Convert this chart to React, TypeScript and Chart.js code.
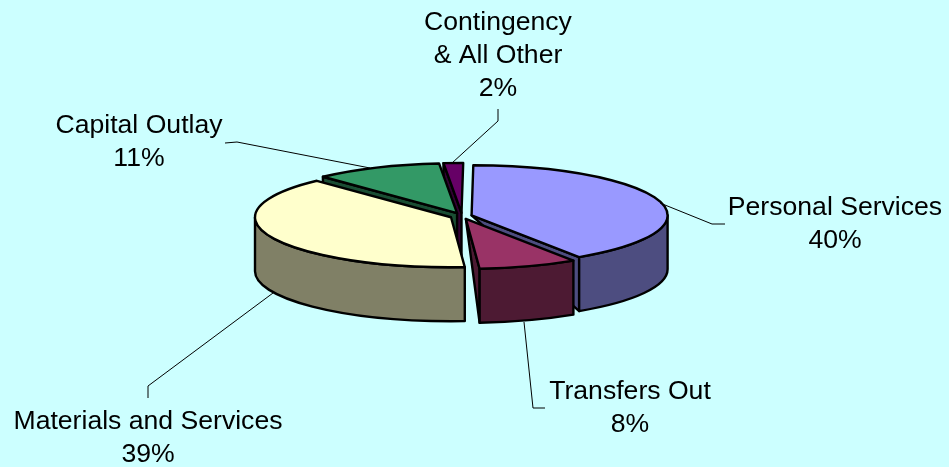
import React, { useEffect, useRef } from "react";
import { Chart, registerables } from "chart.js";

Chart.register(...registerables);

const categories = ["Personal Services", "Transfers Out", "Materials and Services", "Capital Outlay", "Contingency\n& All Other"];
const values = [40.49, 8.1, 39.0, 10.5, 1.6];
const percentLabels = ["40%", "8%", "39%", "11%", "2%"];
const topColors = ["#9999ff", "#993366", "#ffffcc", "#339966", "#660066"];
const wallColors = ["#4d4d80", "#4d1a33", "#808066", "#1a4d33", "#330033"];
const explode = [10, 12, 12, 12, 12];

const BG = "#ccffff";
const CX = 462;
const CY = 216;
const RX = 196;
const K = 0.255;
const DEPTH = 54;
const paintOrder = [4, 3, 0, 2, 1];
// Which cut faces of each slice show; "Tip" faces taper to the apex.
const cutFaces = [["endTip"], ["endTip"], [], ["start"], ["start"]];
const labelCentres = [
  [835, 208],
  [630, 392],
  [148, 422],
  [139, 126],
  [498, 23],
];
const leaders = [
  [[660, 203], [712, 224], [725, 224]],
  [[524, 322], [533, 408], [545, 408]],
  [[273, 293], [148, 386], [148, 398]],
  [[370, 168], [237, 142], [225, 143]],
  [[452, 163], [498, 121], [498, 109]],
];

const piePlugin = {
  id: "pie3d",
  beforeDatasetDraw(chart: any) {
    const ctx = chart.ctx;
    const arcs = chart.getDatasetMeta(0).data;
    const geom = arcs.map((arc: any, i: number) => {
      const p = arc.getProps(["startAngle", "endAngle", "outerRadius"], true);
      const mid = (p.startAngle + p.endAngle) / 2;
      return {
        a0: p.startAngle,
        a1: p.endAngle,
        r: p.outerRadius,
        x: CX + Math.cos(mid) * explode[i],
        y: CY + Math.sin(mid) * explode[i] * K,
      };
    });
    ctx.save();
    ctx.lineJoin = "round";
    ctx.lineWidth = 2.4;
    ctx.strokeStyle = "#000";
    for (const i of paintOrder) {
      const g = geom[i];
      ctx.fillStyle = wallColors[i];
      for (const face of cutFaces[i]) {
        const a = face.startsWith("end") ? g.a1 : g.a0;
        const ex = g.x + Math.cos(a) * g.r;
        const ey = g.y + Math.sin(a) * g.r * K;
        ctx.beginPath();
        ctx.moveTo(g.x, g.y);
        ctx.lineTo(ex, ey);
        ctx.lineTo(ex, ey + DEPTH);
        if (!face.endsWith("Tip")) ctx.lineTo(g.x, g.y + DEPTH);
        ctx.closePath();
        ctx.fill();
        ctx.stroke();
      }
      const from = Math.max(g.a0, 0);
      const to = Math.min(g.a1, Math.PI);
      if (to > from) {
        ctx.beginPath();
        ctx.ellipse(g.x, g.y, g.r, g.r * K, 0, from, to);
        ctx.ellipse(g.x, g.y + DEPTH, g.r, g.r * K, 0, to, from, true);
        ctx.closePath();
        ctx.fill();
        ctx.stroke();
      }
    }
    // Top faces: the library's own arc elements, each under its exploded, flattened transform.
    arcs.forEach((arc: any, i: number) => {
      const p = arc.getProps(["x", "y"], true);
      ctx.save();
      ctx.translate(geom[i].x, geom[i].y);
      ctx.scale(1, K);
      ctx.translate(-p.x, -p.y);
      arc.draw(ctx);
      ctx.restore();
    });
    for (const g of geom) {
      ctx.beginPath();
      ctx.moveTo(g.x, g.y);
      ctx.ellipse(g.x, g.y, g.r, g.r * K, 0, g.a0, g.a1);
      ctx.closePath();
      ctx.stroke();
    }
    ctx.restore();
    return false;
  },
  afterDraw(chart: any) {
    const ctx = chart.ctx;
    ctx.save();
    ctx.strokeStyle = "#000";
    ctx.lineWidth = 1;
    for (const line of leaders) {
      ctx.beginPath();
      line.forEach(([x, y], i) => (i ? ctx.lineTo(x, y) : ctx.moveTo(x, y)));
      ctx.stroke();
    }
    ctx.fillStyle = "#000";
    ctx.font = '26.6px "Liberation Sans"';
    ctx.textAlign = "center";
    ctx.textBaseline = "middle";
    categories.forEach((c, i) => {
      const lines = [...c.split("\n"), percentLabels[i]];
      lines.forEach((t, j) => ctx.fillText(t, labelCentres[i][0], labelCentres[i][1] + j * 33));
    });
    ctx.restore();
  },
};

export default function App() {
  const ref = useRef<HTMLCanvasElement | null>(null);
  useEffect(() => {
    document.body.style.margin = "0";
    document.body.style.background = BG;
    const chart = new Chart(ref.current as HTMLCanvasElement, {
      type: "pie",
      data: {
        labels: categories,
        datasets: [
          {
            data: values,
            backgroundColor: topColors,
            borderWidth: 0,
          } as any,
        ],
      },
      options: {
        responsive: false,
        animation: false,
        radius: RX,
        rotation: 0.5,
        layout: { padding: 0 },
        plugins: { legend: { display: false }, tooltip: { enabled: false } },
      } as any,
      plugins: [piePlugin],
    });
    return () => chart.destroy();
  }, []);
  return <canvas ref={ref} width={949} height={467} style={{ display: "block", background: BG }} />;
}
